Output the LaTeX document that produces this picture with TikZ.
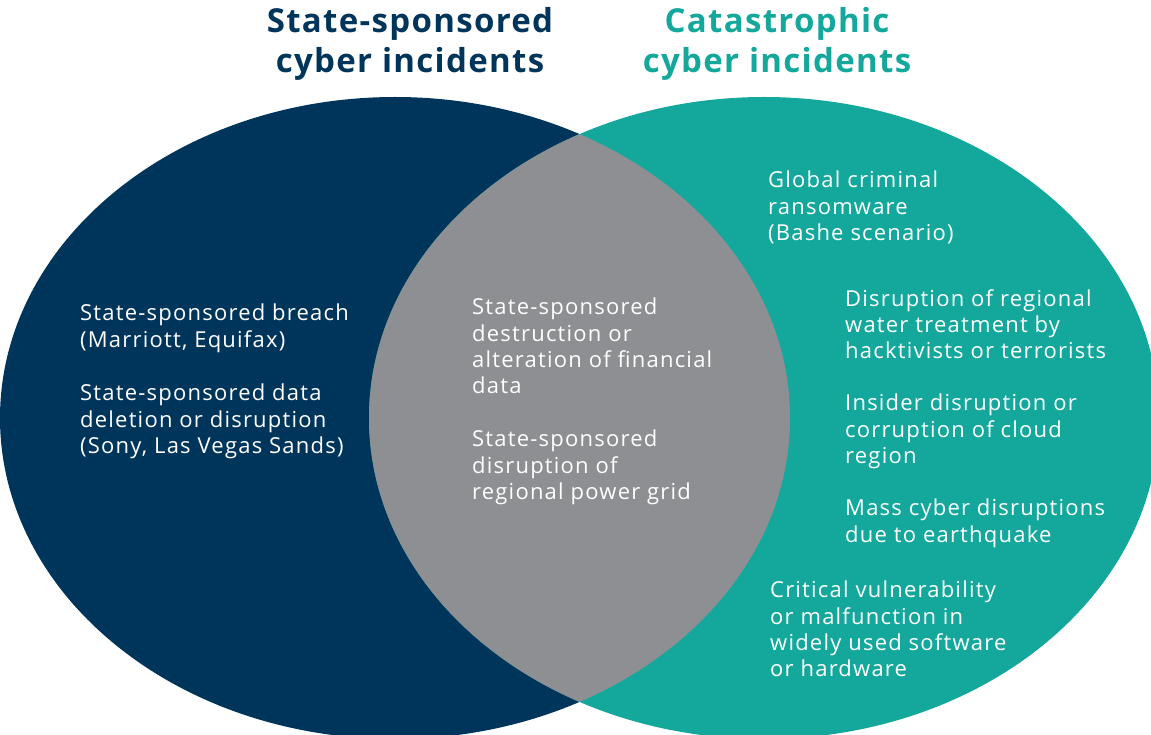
\documentclass[tikz,border=0pt]{standalone}
\usepackage{fontspec}
\setmainfont{Open Sans}
\newfontfamily\headfont[LetterSpace=4]{Open Sans}
\newfontfamily\itemfont[LetterSpace=5.5]{Open Sans}

\definecolor{stateblue}{HTML}{00355B}
\definecolor{catteal}{HTML}{14A89C}
\definecolor{overlapgray}{HTML}{8E8F92}

\tikzset{
  headline/.style={align=center, inner sep=0, font=\headfont\bfseries\fontsize{33}{40}\selectfont},
  item/.style={text=white, align=left, anchor=north west, inner sep=0, font=\itemfont\fontsize{22}{26.3}\selectfont}
}

\begin{document}
\begin{tikzpicture}[x=1pt, y=-1pt]
\useasboundingbox (0,0) rectangle (1151,735);
\clip (0,0) rectangle (1151,735);

% the two sets and their overlap
\fill [stateblue] (395,418) ellipse [x radius=395pt, y radius=321pt];
\fill [catteal] (764,418) ellipse [x radius=395pt, y radius=321pt];
\begin{scope}
  \clip (395,418) ellipse [x radius=395pt, y radius=321pt];
  \fill [overlapgray] (764,418) ellipse [x radius=395pt, y radius=321pt];
\end{scope}

% headings
\node [headline, text=stateblue] (statehead) at (410,44) {State-sponsored\\cyber incidents};
\node [headline, text=catteal] (cathead) at (777,44) {Catastrophic\\cyber incidents};

% state-sponsored only
\node [item] (breach) at (80,304) {State-sponsored breach\\(Marriott, Equifax)};
\node [item] (deletion) at (80,384) {State-sponsored data\\deletion or disruption\\(Sony, Las Vegas Sands)};

% overlap
\node [item] (financial) at (472,298) {State-sponsored\\destruction or\\alteration of financial\\data};
\node [item] (powergrid) at (472,430) {State-sponsored\\disruption of\\regional power grid};

% catastrophic only
\node [item] (ransom) at (768,171) {Global criminal\\ransomware\\(Bashe scenario)};
\node [item] (water) at (845,289) {Disruption of regional\\water treatment by\\hacktivists or terrorists};
\node [item] (cloud) at (845,394) {Insider disruption or\\corruption of cloud\\region};
\node [item] (quake) at (845,499) {Mass cyber disruptions\\due to earthquake};
\node [item] (software) at (770,581) {Critical vulnerability\\or malfunction in\\widely used software\\or hardware};
\end{tikzpicture}
\end{document}
